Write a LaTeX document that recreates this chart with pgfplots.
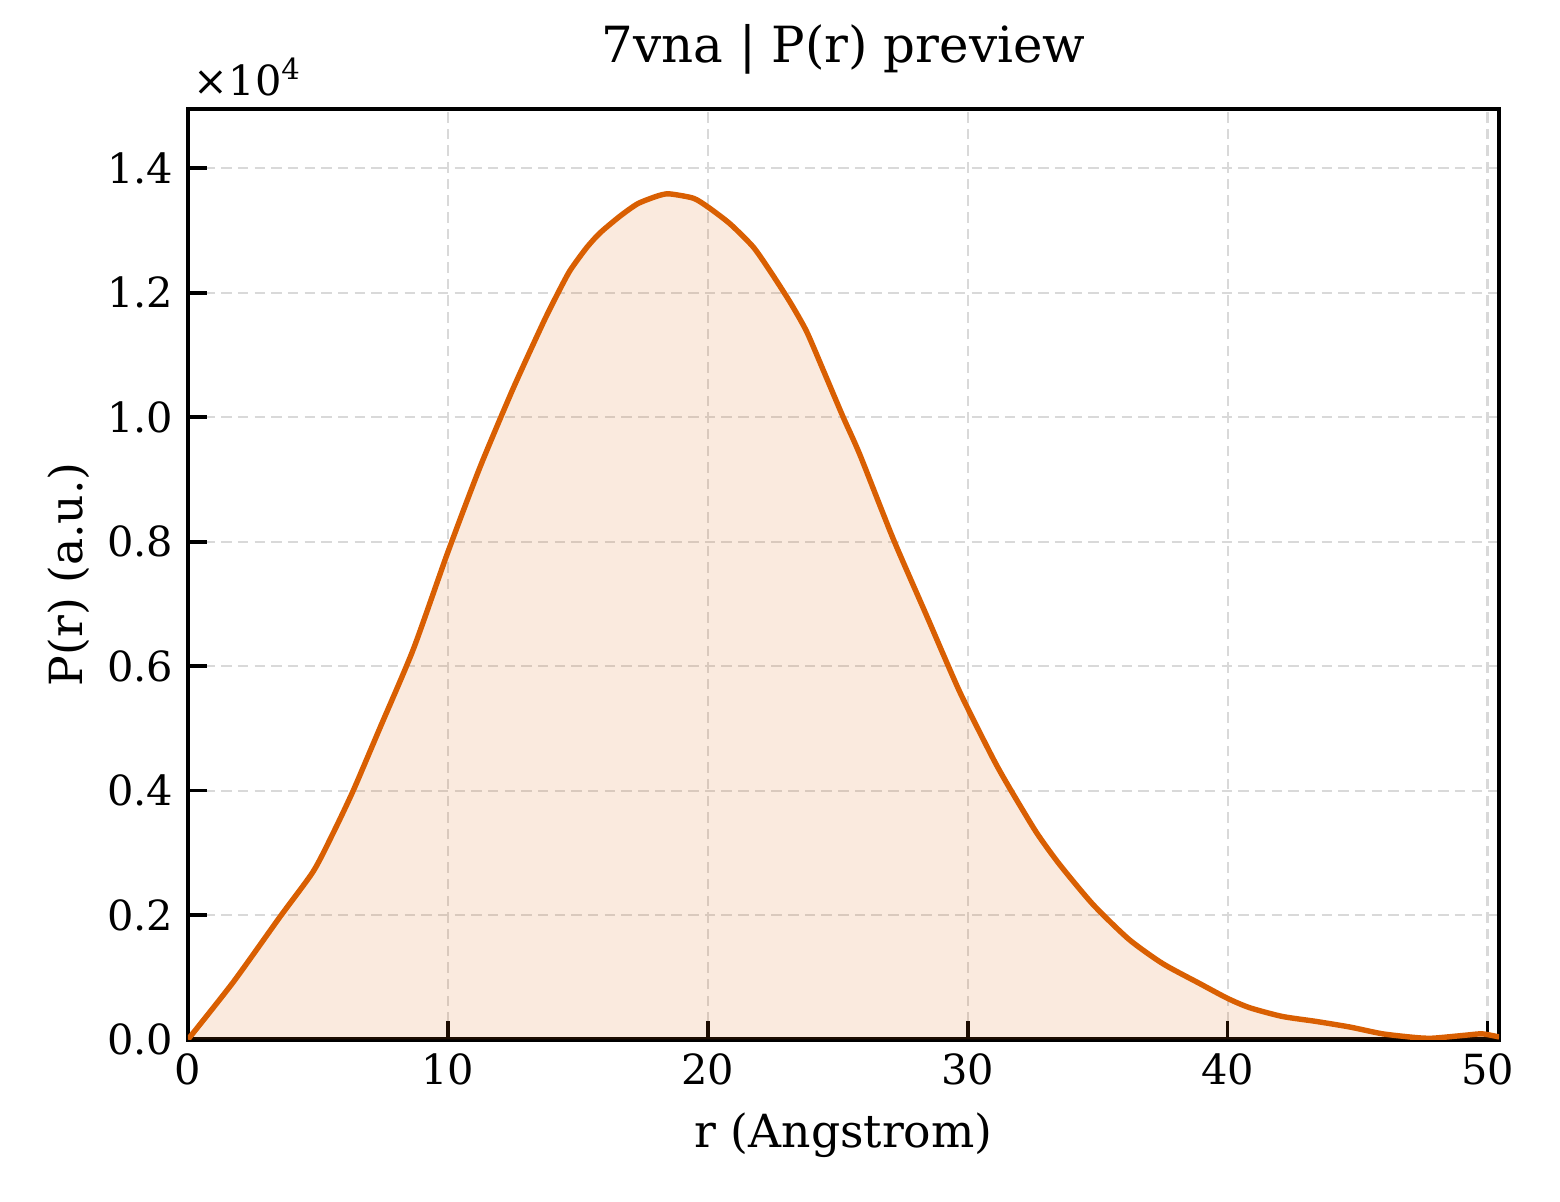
\documentclass[border=0pt]{standalone}
\usepackage{fontspec}
\setmainfont{DejaVu Serif}
\usepackage{pgfplots}
\pgfplotsset{compat=1.18}
\definecolor{pcol}{HTML}{D95F02}
\definecolor{gridc}{HTML}{D9D9D9}
\pgfplotstableread{
x y
0 0
1.74 0.092
3.54 0.197
4.82 0.270
5.59 0.332
6.36 0.400
7.38 0.500
8.67 0.627
9.99 0.782
11.23 0.919
12.51 1.046
13.67 1.152
14.18 1.195
14.69 1.235
15.33 1.272
15.85 1.296
16.62 1.323
17.30 1.343
18.03 1.355
18.50 1.359
19.44 1.352
20.00 1.338
20.85 1.311
21.74 1.274
22.38 1.236
23.15 1.186
23.80 1.138
24.50 1.070
25.20 1.001
25.85 0.940
27.13 0.805
28.41 0.682
29.69 0.559
30.97 0.452
31.60 0.405
32.64 0.333
33.54 0.281
34.82 0.217
36.20 0.161
37.50 0.122
38.92 0.090
40.00 0.066
40.85 0.051
42.10 0.037
43.40 0.029
44.70 0.020
45.97 0.009
47.25 0.003
47.90 0.002
49.20 0.007
49.80 0.009
50.45 0.004
}\prdata
\begin{document}
\begin{tikzpicture}
\begin{axis}[
  scale only axis,
  width=314.6bp, height=223.2bp,
  xmin=0, xmax=50.45, ymin=0, ymax=1.495,
  xtick={0,10,20,30,40,50},
  ytick={0,0.2,0.4,0.6,0.8,1.0,1.2,1.4},
  scaled y ticks=false,
  yticklabel style={/pgf/number format/.cd, fixed, fixed zerofill, precision=1},
  /pgf/number format/assume math mode=true,
  tick label style={font=\fontsize{10}{12}\selectfont, black},
  xtick pos=bottom, ytick pos=left,
  tick align=inside,
  major tick length=4.5bp,
  every tick/.style={black, line width=0.9bp},
  axis line style={black, line width=1bp},
  grid=major,
  major grid style={gridc, line width=0.5bp, dash pattern=on 2.5bp off 1.5bp},
  xlabel={r (Angstrom)},
  ylabel={P(r) (a.u.)},
  xlabel style={font=\fontsize{11}{13}\selectfont, at={(axis description cs:0.5,0)}, anchor=base, yshift=-25.9bp},
  ylabel style={font=\fontsize{11}{13}\selectfont, at={(axis description cs:0,0.5)}, anchor=base, yshift=25.2bp},
  title={7vna | P(r) preview},
  title style={font=\fontsize{12}{14}\selectfont, at={(axis description cs:0.5,1)}, anchor=base, yshift=5.3bp},
  clip=true,
]
\addplot[draw=none, fill=pcol, fill opacity=0.13, smooth, tension=0.4] table {\prdata} \closedcycle;
\addplot[pcol, line width=1.3bp, smooth, tension=0.4] table {\prdata};
\end{axis}
\node[anchor=base west, inner sep=0pt, font=\fontsize{10}{12}\selectfont] at ([xshift=1.2bp, yshift=3.4bp]current axis.north west) {×10\textsuperscript{4}};
\pgfresetboundingbox
\path[use as bounding box] ([xshift=-45.1bp, yshift=-38.9bp]current axis.south west) rectangle ([xshift=14.6bp, yshift=26.2bp]current axis.north east);
\end{tikzpicture}
\end{document}
